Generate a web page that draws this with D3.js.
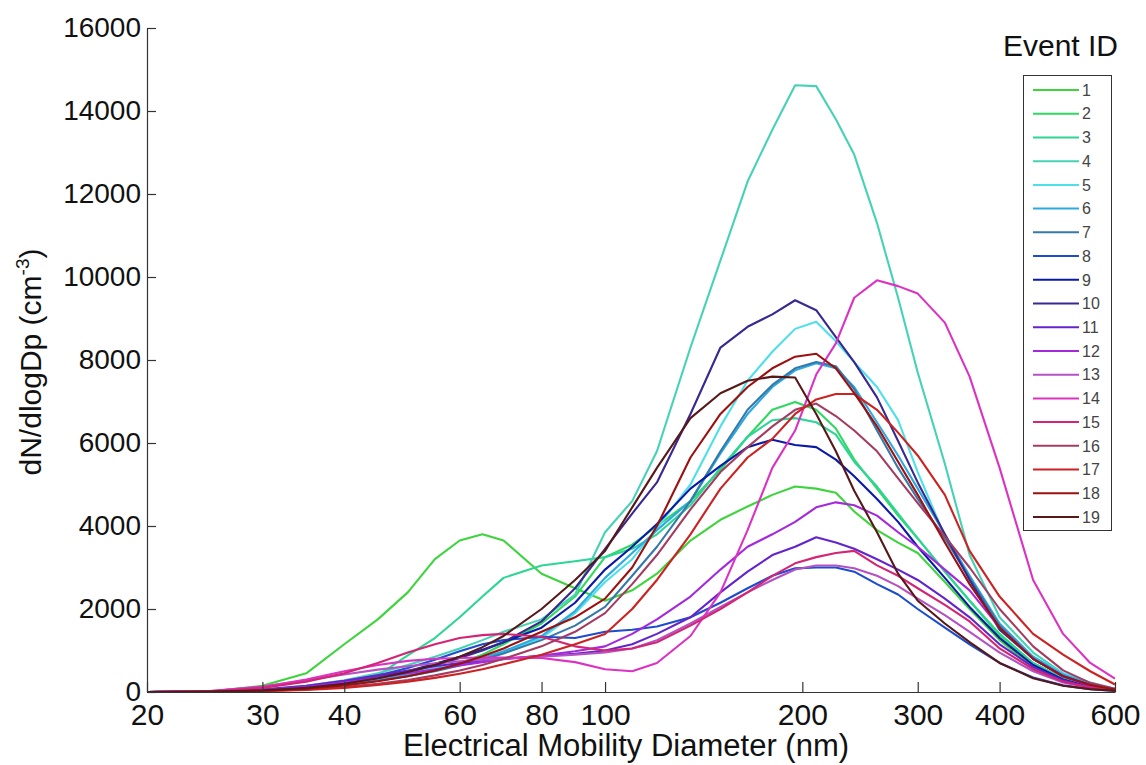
<!DOCTYPE html>
<html>
<head>
<meta charset="utf-8">
<script src="https://cdn.jsdelivr.net/npm/d3@7"></script>
<style>
  body { margin: 0; background: #fff; }
  svg { display: block; }
  text { font-family: "Liberation Sans", Arial, sans-serif; }
</style>
</head>
<body>
<svg id="chart" width="1146" height="765"></svg>
<script>
// Size distribution per event: dN/dlogDp (cm^-3) vs electrical mobility diameter (nm)
const diameters = [20, 25, 30, 35, 40, 45, 50, 55, 60, 65, 70, 80, 90, 100, 110, 120, 135, 150, 165, 180,
                   195, 210, 225, 240, 260, 280, 300, 330, 360, 400, 450, 500, 550, 600];

const event1  = [0, 10, 150, 450, 1150, 1750, 2400, 3200, 3650, 3800, 3650, 2850, 2500, 2200, 2450, 2850, 3650, 4150, 4470, 4750,
                 4950, 4900, 4800, 4350, 3900, 3600, 3350, 2650, 2000, 1250, 600, 270, 110, 35];
const event2  = [0, 5, 40, 100, 190, 300, 420, 550, 700, 900, 1150, 1650, 2300, 3250, 3550, 4000, 4600, 5350, 6150, 6800,
                 6990, 6800, 6350, 5600, 4900, 4250, 3700, 2900, 2200, 1400, 700, 320, 130, 40];
const event3  = [0, 5, 30, 80, 200, 400, 880, 1300, 1800, 2300, 2750, 3050, 3150, 3250, 3450, 3800, 4500, 5400, 6150, 6550,
                 6600, 6500, 6200, 5550, 4950, 4300, 3700, 2900, 2200, 1350, 700, 320, 130, 40];
const event4  = [0, 10, 60, 150, 280, 450, 650, 850, 1050, 1250, 1450, 1750, 2350, 3850, 4600, 5800, 8300, 10400, 12300, 13550,
                 14620, 14600, 13800, 12950, 11300, 9500, 7700, 5500, 3300, 1800, 950, 450, 180, 60];
const event5  = [0, 10, 50, 120, 220, 330, 450, 580, 700, 820, 950, 1300, 1900, 2650, 3200, 3950, 5000, 6400, 7500, 8200,
                 8750, 8920, 8450, 7950, 7350, 6550, 5300, 3750, 2800, 1500, 850, 450, 230, 80];
const event6  = [0, 10, 40, 100, 190, 290, 400, 530, 670, 820, 980, 1350, 1950, 2750, 3350, 3900, 4600, 5750, 6700, 7350,
                 7750, 7920, 7800, 7350, 6500, 5700, 4900, 3800, 2800, 1650, 850, 420, 200, 70];
const event7  = [0, 10, 40, 90, 170, 270, 380, 500, 640, 780, 930, 1250, 1600, 2050, 2800, 3500, 4600, 5800, 6800, 7400,
                 7800, 7950, 7850, 7300, 6300, 5400, 4650, 3700, 2750, 1600, 800, 380, 170, 60];
const event8  = [0, 10, 50, 130, 250, 400, 580, 780, 980, 1150, 1250, 1330, 1300, 1450, 1500, 1580, 1800, 2150, 2500, 2800,
                 2980, 3000, 3000, 2900, 2600, 2350, 2000, 1550, 1150, 700, 350, 160, 70, 25];
const event9  = [0, 10, 50, 120, 220, 350, 500, 680, 850, 1020, 1200, 1550, 2150, 2950, 3500, 4050, 4900, 5450, 5900, 6080,
                 5950, 5900, 5600, 5200, 4650, 4100, 3500, 2750, 2050, 1300, 650, 300, 120, 40];
const event10 = [0, 10, 50, 120, 220, 340, 480, 640, 820, 1000, 1200, 1700, 2500, 3450, 4300, 5050, 6700, 8300, 8800, 9100,
                 9440, 9200, 8550, 7950, 7100, 6050, 5050, 3800, 2700, 1500, 800, 380, 170, 50];
const event11 = [0, 10, 60, 150, 270, 400, 520, 620, 700, 760, 800, 870, 920, 1000, 1150, 1400, 1800, 2400, 2900, 3300,
                 3500, 3730, 3600, 3450, 3200, 2950, 2700, 2250, 1800, 1150, 600, 280, 110, 35];
const event12 = [0, 10, 50, 120, 230, 340, 450, 550, 640, 720, 790, 880, 980, 1100, 1400, 1750, 2300, 2950, 3500, 3800,
                 4100, 4450, 4570, 4500, 4250, 3850, 3500, 2950, 2450, 1550, 800, 380, 150, 50];
const event13 = [0, 20, 130, 280, 420, 540, 620, 690, 740, 780, 800, 850, 900, 950, 1050, 1250, 1650, 2050, 2400, 2700,
                 2950, 3050, 3050, 2980, 2800, 2550, 2250, 1850, 1450, 950, 500, 230, 100, 35];
const event14 = [0, 20, 120, 300, 500, 650, 750, 800, 820, 830, 830, 820, 720, 550, 500, 700, 1350, 2400, 3900, 5400,
                 6300, 7650, 8400, 9500, 9920, 9780, 9600, 8900, 7600, 5400, 2700, 1400, 700, 320];
const event15 = [0, 10, 100, 250, 450, 700, 950, 1150, 1300, 1370, 1400, 1330, 1100, 1000, 1050, 1200, 1600, 2000, 2400, 2800,
                 3100, 3250, 3350, 3400, 3050, 2800, 2500, 2100, 1700, 1050, 550, 250, 110, 40];
const event16 = [0, 5, 25, 60, 120, 200, 290, 400, 520, 650, 800, 1100, 1450, 1900, 2600, 3300, 4400, 5300, 5900, 6400,
                 6800, 6950, 6650, 6300, 5800, 5150, 4550, 3750, 3000, 2000, 1100, 520, 220, 80];
const event17 = [0, 5, 20, 50, 100, 170, 250, 340, 440, 550, 670, 900, 1150, 1400, 2000, 2700, 3800, 4900, 5650, 6100,
                 6700, 7050, 7180, 7180, 6800, 6250, 5700, 4750, 3400, 2300, 1400, 900, 500, 180];
const event18 = [0, 5, 30, 80, 160, 260, 380, 520, 680, 860, 1050, 1450, 1800, 2250, 3000, 4000, 5650, 6700, 7350, 7800,
                 8080, 8150, 7800, 7200, 6400, 5550, 4750, 3600, 2600, 1550, 800, 380, 170, 60];
const event19 = [0, 10, 40, 100, 200, 330, 480, 650, 850, 1080, 1350, 2000, 2700, 3400, 4450, 5400, 6600, 7200, 7500, 7600,
                 7580, 6700, 5800, 4850, 3850, 2850, 2200, 1650, 1200, 700, 330, 150, 70, 30];

const eventIds = ["1", "2", "3", "4", "5", "6", "7", "8", "9", "10",
                  "11", "12", "13", "14", "15", "16", "17", "18", "19"];
const eventColors = ["#3ed43e", "#2fd860", "#2ed596", "#45d2b5", "#4ee0ea", "#2ea9e0", "#3579ab", "#1d4ccc", "#0a1aa6", "#382890",
                     "#6424cc", "#a428dc", "#b452c4", "#dc32c4", "#d42474", "#a43c62", "#cc2222", "#9c1010", "#581818"];

const xTickValues = [20, 30, 40, 60, 80, 100, 200, 300, 400, 600];
const yTickValues = [0, 2000, 4000, 6000, 8000, 10000, 12000, 14000, 16000];

const series = [event1, event2, event3, event4, event5, event6, event7, event8, event9, event10,
                event11, event12, event13, event14, event15, event16, event17, event18, event19];

const svg = d3.select("#chart");

const x = d3.scaleLog().domain([20, 600]).range([147, 1115]);
const y = d3.scaleLinear().domain([0, 16000]).range([692, 28]);

// Curves, first event underneath, last on top
const line = d3.line()
  .x((d, i) => x(diameters[i]))
  .y(d => y(d));

svg.append("g")
  .selectAll("path")
  .data(series)
  .join("path")
  .attr("d", line)
  .attr("fill", "none")
  .attr("stroke", (d, i) => eventColors[i])
  .attr("stroke-width", 2.1)
  .attr("stroke-linejoin", "round");

// Axes: left and bottom only, ticks pointing inward
const xAxis = svg.append("g")
  .attr("transform", `translate(0,${y(0)})`)
  .call(d3.axisBottom(x)
    .tickValues(xTickValues)
    .tickFormat(d3.format("d"))
    .tickSizeInner(-10)
    .tickSizeOuter(0)
    .tickPadding(12));

const yAxis = svg.append("g")
  .attr("transform", `translate(${x(20)},0)`)
  .call(d3.axisLeft(y)
    .tickValues(yTickValues)
    .tickFormat(d3.format("d"))
    .tickSizeInner(-9)
    .tickSizeOuter(0)
    .tickPadding(6));

[xAxis, yAxis].forEach(g => {
  g.select(".domain").attr("stroke", "#333").attr("stroke-width", 1.2);
  g.selectAll(".tick line").attr("stroke", "#333").attr("stroke-width", 1.2);
  g.selectAll(".tick text").attr("fill", "#111").attr("font-family", "Liberation Sans, Arial, sans-serif");
});
xAxis.selectAll(".tick text").attr("font-size", 30);
yAxis.selectAll(".tick text").attr("font-size", 28);

// Axis titles
svg.append("text")
  .attr("x", 626)
  .attr("y", 756)
  .attr("text-anchor", "middle")
  .attr("font-size", 31)
  .attr("fill", "#111")
  .text("Electrical Mobility Diameter (nm)");

const yTitle = svg.append("text")
  .attr("transform", "translate(41,362) rotate(-90)")
  .attr("text-anchor", "middle")
  .attr("font-size", 30)
  .attr("fill", "#111");
yTitle.append("tspan").text("dN/dlogDp (cm");
yTitle.append("tspan").attr("font-size", 19).attr("dy", -12).text("-3");
yTitle.append("tspan").attr("dy", 12).text(")");

// Legend
svg.append("text")
  .attr("x", 1118)
  .attr("y", 56)
  .attr("text-anchor", "end")
  .attr("font-size", 30)
  .attr("fill", "#111")
  .text("Event ID");

svg.append("rect")
  .attr("x", 1023.5)
  .attr("y", 75.5)
  .attr("width", 88)
  .attr("height", 455)
  .attr("fill", "#fff")
  .attr("stroke", "#333")
  .attr("stroke-width", 1);

const rowY = d3.scalePoint().domain(eventIds).range([90, 517]);

const rows = svg.append("g")
  .selectAll("g")
  .data(eventIds)
  .join("g")
  .attr("transform", d => `translate(0,${rowY(d)})`);

rows.append("line")
  .attr("x1", 1033)
  .attr("x2", 1079)
  .attr("stroke", (d, i) => eventColors[i])
  .attr("stroke-width", 2);

rows.append("text")
  .attr("x", 1082)
  .attr("dy", "0.36em")
  .attr("font-size", 16)
  .attr("fill", "#444")
  .text(d => d);
</script>
</body>
</html>
